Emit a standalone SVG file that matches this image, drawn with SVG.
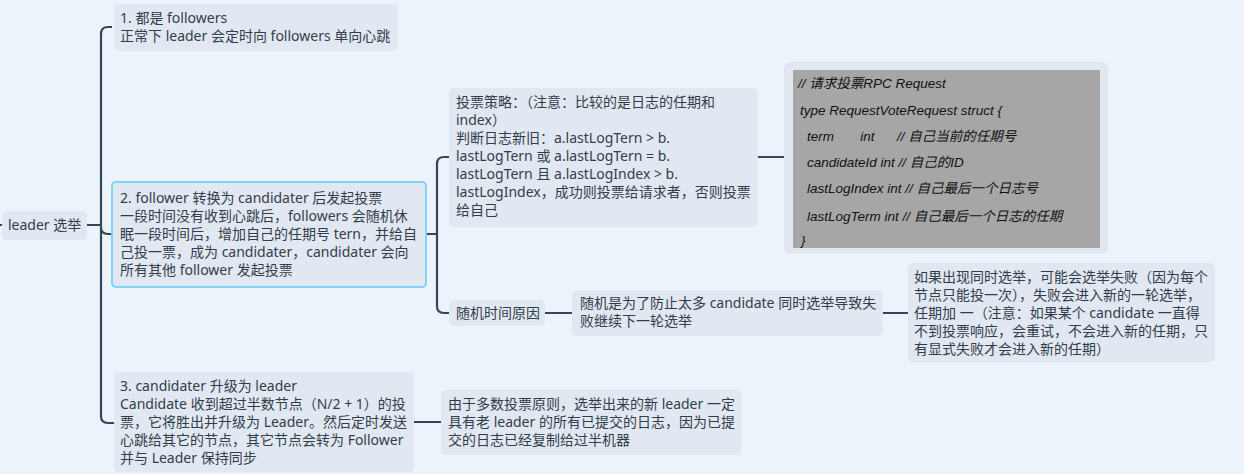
<svg xmlns="http://www.w3.org/2000/svg" width="1244" height="474" viewBox="0 0 1244 474">
<style>
.n{fill:#e1e8f1}
.t{font-family:"Noto Sans","Noto Sans CJK SC",sans-serif;font-size:14px;fill:#323d4c}
.c{font-family:"Liberation Sans","Noto Sans CJK SC",sans-serif;font-size:13.5px;font-style:italic;fill:#111}
.l{fill:none;stroke:#36465a;stroke-width:2.2}
</style>
<rect width="1244" height="474" fill="#edf3fa"/>
<g id="connectors">
<path class="l" d="M0 225H2M87 225H100"/>
<path class="l" d="M112 27H108Q101 27 101 34V416Q101 423 108 423H114M101 225V227Q101 234 108 234H112"/>
<path class="l" d="M426 234H437M449 157H444Q437 157 437 164V306Q437 313 444 313H449"/>
<path class="l" d="M758 157H784M545 313H572M883 313H908M414 422H441"/>
</g>
<g id="root"><rect class="n" x="2" y="211" width="85" height="29" rx="5"/><text class="t" x="8" y="230">leader 选举</text></g>
<g id="n1"><rect class="n" x="114" y="4" width="284" height="47" rx="5"/><text class="t" x="120" y="23">1. 都是 followers</text><text class="t" x="120" y="41">正常下 leader 会定时向 followers 单向心跳</text></g>
<g id="n2"><rect x="112" y="182" width="314" height="105" rx="4" fill="#e1e8f1" stroke="#7fd3f7" stroke-width="2"/>
<text class="t" x="120" y="203">2. follower 转换为 candidater 后发起投票</text>
<text class="t" x="120" y="221">一段时间没有收到心跳后，followers 会随机休</text>
<text class="t" x="120" y="239">眠一段时间后，增加自己的任期号 tern，并给自</text>
<text class="t" x="120" y="257">己投一票，成为 candidater，candidater 会向</text>
<text class="t" x="120" y="275">所有其他 follower 发起投票</text></g>
<g id="n2a"><rect class="n" x="449" y="88" width="309" height="139" rx="5"/>
<text class="t" x="456" y="107">投票策略：（注意：比较的是日志的任期和</text>
<text class="t" x="456" y="125">index）</text>
<text class="t" x="456" y="143">判断日志新旧：a.lastLogTern &gt; b.</text>
<text class="t" x="456" y="161">lastLogTern 或 a.lastLogTern = b.</text>
<text class="t" x="456" y="179">lastLogTern 且 a.lastLogIndex &gt; b.</text>
<text class="t" x="456" y="197">lastLogIndex，成功则投票给请求者，否则投票</text>
<text class="t" x="456" y="215">给自己</text></g>
<g id="code"><rect class="n" x="784" y="62" width="324" height="192" rx="6"/>
<rect x="793" y="70" width="307" height="178" fill="#a6a6a6"/>
<text class="c" x="798" y="88">// 请求投票RPC Request</text>
<text class="c" x="800" y="115">type RequestVoteRequest struct {</text>
<text class="c" x="807" y="141" xml:space="preserve">term       int      // 自己当前的任期号</text>
<text class="c" x="807" y="167">candidateId  int  // 自己的ID</text>
<text class="c" x="807" y="193">lastLogIndex int // 自己最后一个日志号</text>
<text class="c" x="807" y="221">lastLogTerm  int // 自己最后一个日志的任期</text>
<text class="c" x="801" y="245">}</text></g>
<g id="n2b"><rect class="n" x="449" y="300" width="96" height="26" rx="5"/><text class="t" x="456" y="318">随机时间原因</text></g>
<g id="n2b1"><rect class="n" x="572" y="290" width="311" height="46" rx="5"/>
<text class="t" x="580" y="308">随机是为了防止太多 candidate 同时选举导致失</text>
<text class="t" x="580" y="326">败继续下一轮选举</text></g>
<g id="n2b2"><rect class="n" x="908" y="263" width="307" height="99" rx="5"/>
<text class="t" x="914" y="282">如果出现同时选举，可能会选举失败（因为每个</text>
<text class="t" x="914" y="300">节点只能投一次），失败会进入新的一轮选举，</text>
<text class="t" x="914" y="318">任期加 一（注意：如果某个 candidate 一直得</text>
<text class="t" x="914" y="336">不到投票响应，会重试，不会进入新的任期，只</text>
<text class="t" x="914" y="354">有显式失败才会进入新的任期）</text></g>
<g id="n3"><rect class="n" x="114" y="372" width="300" height="100" rx="5"/>
<text class="t" x="120" y="391">3. candidater 升级为 leader</text>
<text class="t" x="120" y="409">Candidate 收到超过半数节点（N/2 + 1）的投</text>
<text class="t" x="120" y="427">票，它将胜出并升级为 Leader。然后定时发送</text>
<text class="t" x="120" y="445">心跳给其它的节点，其它节点会转为 Follower</text>
<text class="t" x="120" y="463">并与 Leader 保持同步</text></g>
<g id="n3a"><rect class="n" x="441" y="390" width="301" height="65" rx="5"/>
<text class="t" x="448" y="409">由于多数投票原则，选举出来的新 leader 一定</text>
<text class="t" x="448" y="427">具有老 leader 的所有已提交的日志，因为已提</text>
<text class="t" x="448" y="445">交的日志已经复制给过半机器</text></g>
</svg>
